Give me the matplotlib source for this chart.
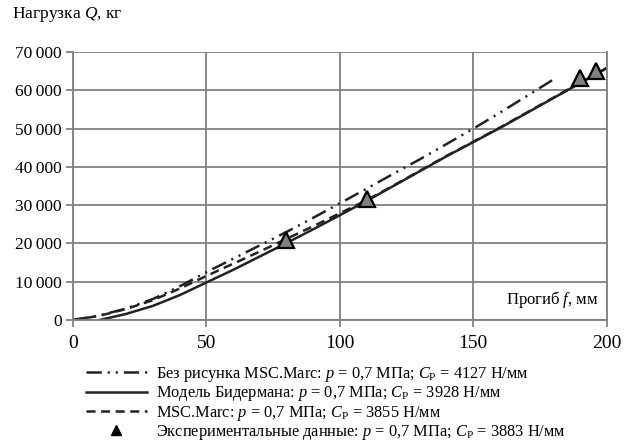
import matplotlib
matplotlib.use("Agg")
import matplotlib.pyplot as plt
from matplotlib.lines import Line2D
from matplotlib.ticker import FuncFormatter

plt.rcParams['font.family'] = ['Liberation Serif', 'DejaVu Serif']
plt.rcParams['mathtext.fontset'] = 'custom'
plt.rcParams['mathtext.rm'] = 'Liberation Serif'
plt.rcParams['mathtext.it'] = 'Liberation Serif:italic'
plt.rcParams['lines.scale_dashes'] = False

# Без рисунка MSC.Marc (штрихпунктир)
f_nopat = [0, 10, 20, 30, 40, 50, 60, 70, 80, 90, 100, 110, 120, 130, 140, 150, 160, 170, 181]
q_nopat = [0, 1200, 3000, 5500, 8800, 12500, 16000, 19500, 23000, 26700, 30500, 34300,
           38200, 42000, 46000, 50000, 54200, 58500, 63300]

# Модель Бидермана (сплошная)
f_bid = [10, 20, 30, 40, 50, 60, 70, 80, 90, 100, 110, 120, 140, 160, 180, 200]
q_bid = [0, 1600, 3700, 6500, 9800, 13100, 16600, 20100, 23700, 27400, 31100, 35000,
         42800, 50200, 58000, 65800]

# MSC.Marc (штриховая)
f_msc = [0, 10, 20, 30, 40, 50, 60, 70, 80, 90, 100, 110, 120, 140, 160, 180, 200]
q_msc = [0, 1100, 2900, 5200, 8200, 11500, 14700, 17900, 21200, 24500, 27900, 31300,
         35100, 42900, 50300, 58100, 65900]

# Экспериментальные данные
f_exp = [80, 110, 190, 196]
q_exp = [21000, 31500, 63300, 65200]

dashdot = [11, 4.3, 1.5, 4.3, 1.5, 4.3]
dashed = [6.5, 4]

fig = plt.figure(figsize=(6.34, 4.46), dpi=100)
ax = fig.add_axes([0.115, 0.2825, 0.842, 0.6005])

ax.plot(f_nopat, q_nopat, color='#222222', lw=1.8, dashes=dashdot)
ax.plot(f_bid, q_bid, color='#222222', lw=1.8)
ax.plot(f_msc, q_msc, color='#222222', lw=1.8, dashes=dashed)
ax.plot(f_exp, q_exp, ls='none', marker='^', ms=11.5, mfc='#7f7f7f', mec='black', mew=1.6)

ax.set_xlim(0, 200)
ax.set_ylim(0, 70000)
ax.set_xticks([0, 50, 100, 150, 200])
ax.set_yticks(range(0, 70001, 10000))
ax.yaxis.set_major_formatter(FuncFormatter(lambda v, p: f"{int(v):,}".replace(",", "\u2009")))
ax.grid(True, color='#808080', lw=1.3)
ax.set_axisbelow(True)
for s in ax.spines.values():
    s.set_color('#808080')
    s.set_linewidth(1.3)
ax.spines['top'].set_visible(False)
ax.tick_params(axis='both', colors='#808080', length=5, width=1.3, labelcolor='black')
ax.tick_params(axis='x', labelsize=14, pad=6)
ax.tick_params(axis='y', labelsize=12.5, pad=3)

fig.text(12 / 634, 1 - 15 / 446, "Нагрузка $\\it{Q}$, кг", fontsize=12.5, ha='left', va='center')
ax.text(197, 5300, "Прогиб $\\it{f}$, мм", fontsize=12, ha='right', va='center')

handles = [
    Line2D([], [], color='#222222', lw=1.8, dashes=dashdot),
    Line2D([], [], color='#222222', lw=1.8),
    Line2D([], [], color='#222222', lw=1.8, dashes=dashed),
    Line2D([], [], ls='none', marker='^', ms=7, mfc='black', mec='black'),
]
labels = [
    "Без рисунка MSC.Marc: $\\it{p}$ = 0,7 МПа; $\\it{C}_{\\rm{P}}$ = 4127 Н/мм",
    "Модель Бидермана: $\\it{p}$ = 0,7 МПа; $\\it{C}_{\\rm{P}}$ = 3928 Н/мм",
    "MSC.Marc: $\\it{p}$ = 0,7 МПа; $\\it{C}_{\\rm{P}}$ = 3855 Н/мм",
    "Экспериментальные данные: $\\it{p}$ = 0,7 МПа; $\\it{C}_{\\rm{P}}$ = 3883 Н/мм",
]
fig.legend(handles, labels, loc='upper left', bbox_to_anchor=(86 / 634, 1 - 365 / 446),
           frameon=False, fontsize=11.8, handlelength=3.7, handletextpad=0.6,
           labelspacing=0.02, borderpad=0, borderaxespad=0)

fig.savefig("out.png", dpi=100)
